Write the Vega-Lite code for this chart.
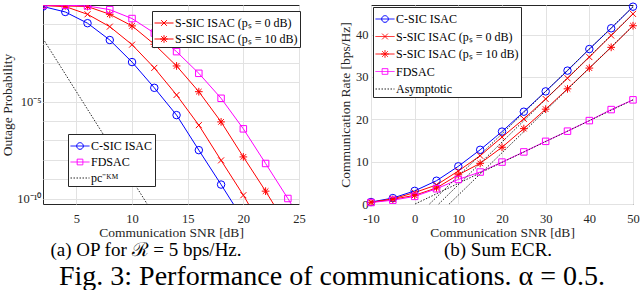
{
  "$schema": "https://vega.github.io/schema/vega-lite/v6.json",
  "padding": {"left": 0, "top": 0, "right": 0, "bottom": 0},
  "background": "white",
  "datasets": {
    "op": [
      {"s": "C-SIC ISAC", "x": 2, "p": 0.832},
      {"s": "C-SIC ISAC", "x": 4, "p": 0.4365},
      {"s": "C-SIC ISAC", "x": 6, "p": 0.1148},
      {"s": "C-SIC ISAC", "x": 8, "p": 0.01549},
      {"s": "C-SIC ISAC", "x": 10, "p": 0.001122},
      {"s": "C-SIC ISAC", "x": 12, "p": 5.25e-5},
      {"s": "C-SIC ISAC", "x": 14, "p": 2.04e-6},
      {"s": "C-SIC ISAC", "x": 16, "p": 3.16e-8},
      {"s": "C-SIC ISAC", "x": 18, "p": 5.25e-10},
      {"s": "C-SIC ISAC", "x": 20, "p": 7.9e-12},
      {"s": "S-SIC ISAC (pₛ = 0 dB)", "x": 2, "p": 0.933},
      {"s": "S-SIC ISAC (pₛ = 0 dB)", "x": 4, "p": 0.832},
      {"s": "S-SIC ISAC (pₛ = 0 dB)", "x": 6, "p": 0.331},
      {"s": "S-SIC ISAC (pₛ = 0 dB)", "x": 8, "p": 0.0759},
      {"s": "S-SIC ISAC (pₛ = 0 dB)", "x": 10, "p": 0.00891},
      {"s": "S-SIC ISAC (pₛ = 0 dB)", "x": 12, "p": 0.000562},
      {"s": "S-SIC ISAC (pₛ = 0 dB)", "x": 14, "p": 2.24e-5},
      {"s": "S-SIC ISAC (pₛ = 0 dB)", "x": 16, "p": 6.17e-7},
      {"s": "S-SIC ISAC (pₛ = 0 dB)", "x": 18, "p": 9.33e-9},
      {"s": "S-SIC ISAC (pₛ = 0 dB)", "x": 20, "p": 1.48e-10},
      {"s": "S-SIC ISAC (pₛ = 0 dB)", "x": 22, "p": 1.58e-12},
      {"s": "S-SIC ISAC (pₛ = 10 dB)", "x": 2, "p": 0.955},
      {"s": "S-SIC ISAC (pₛ = 10 dB)", "x": 4, "p": 0.891},
      {"s": "S-SIC ISAC (pₛ = 10 dB)", "x": 6, "p": 0.832},
      {"s": "S-SIC ISAC (pₛ = 10 dB)", "x": 8, "p": 0.331},
      {"s": "S-SIC ISAC (pₛ = 10 dB)", "x": 10, "p": 0.0832},
      {"s": "S-SIC ISAC (pₛ = 10 dB)", "x": 12, "p": 0.00933},
      {"s": "S-SIC ISAC (pₛ = 10 dB)", "x": 14, "p": 0.000708},
      {"s": "S-SIC ISAC (pₛ = 10 dB)", "x": 16, "p": 3.31e-5},
      {"s": "S-SIC ISAC (pₛ = 10 dB)", "x": 18, "p": 9.12e-7},
      {"s": "S-SIC ISAC (pₛ = 10 dB)", "x": 20, "p": 1.41e-8},
      {"s": "S-SIC ISAC (pₛ = 10 dB)", "x": 22, "p": 2.4e-10},
      {"s": "S-SIC ISAC (pₛ = 10 dB)", "x": 24, "p": 3.16e-12},
      {"s": "FDSAC", "x": 2, "p": 0.977},
      {"s": "FDSAC", "x": 4, "p": 0.977},
      {"s": "FDSAC", "x": 6, "p": 0.891},
      {"s": "FDSAC", "x": 8, "p": 0.575},
      {"s": "FDSAC", "x": 10, "p": 0.1995},
      {"s": "FDSAC", "x": 12, "p": 0.0355},
      {"s": "FDSAC", "x": 14, "p": 0.00389},
      {"s": "FDSAC", "x": 16, "p": 0.000295},
      {"s": "FDSAC", "x": 18, "p": 1.51e-5},
      {"s": "FDSAC", "x": 20, "p": 3.98e-7},
      {"s": "FDSAC", "x": 22, "p": 6.46e-9},
      {"s": "FDSAC", "x": 24, "p": 1.0e-10},
      {"s": "FDSAC", "x": 26, "p": 1.26e-12},
      {"s": "pc⁻ᴷᴹ", "x": 2, "p": 0.0182},
      {"s": "pc⁻ᴷᴹ", "x": 12, "p": 1.35e-11}
    ],
    "ecr": [
      {"s": "C-SIC ISAC", "g": "m1", "x": -10, "r": 0.47},
      {"s": "C-SIC ISAC", "g": "m1", "x": -5, "r": 1.4},
      {"s": "C-SIC ISAC", "g": "m1", "x": 0, "r": 3.1},
      {"s": "C-SIC ISAC", "g": "m1", "x": 5, "r": 5.5},
      {"s": "C-SIC ISAC", "g": "m1", "x": 10, "r": 8.9},
      {"s": "C-SIC ISAC", "g": "m1", "x": 15, "r": 12.8},
      {"s": "C-SIC ISAC", "g": "m1", "x": 20, "r": 17.1},
      {"s": "C-SIC ISAC", "g": "m1", "x": 25, "r": 21.8},
      {"s": "C-SIC ISAC", "g": "m1", "x": 30, "r": 26.6},
      {"s": "C-SIC ISAC", "g": "m1", "x": 35, "r": 31.5},
      {"s": "C-SIC ISAC", "g": "m1", "x": 40, "r": 36.6},
      {"s": "C-SIC ISAC", "g": "m1", "x": 45, "r": 41.5},
      {"s": "C-SIC ISAC", "g": "m1", "x": 50, "r": 46.6},
      {"s": "S-SIC ISAC (pₛ = 0 dB)", "g": "m2", "x": -10, "r": 0.4},
      {"s": "S-SIC ISAC (pₛ = 0 dB)", "g": "m2", "x": -5, "r": 1.2},
      {"s": "S-SIC ISAC (pₛ = 0 dB)", "g": "m2", "x": 0, "r": 2.7},
      {"s": "S-SIC ISAC (pₛ = 0 dB)", "g": "m2", "x": 5, "r": 4.5},
      {"s": "S-SIC ISAC (pₛ = 0 dB)", "g": "m2", "x": 10, "r": 7.8},
      {"s": "S-SIC ISAC (pₛ = 0 dB)", "g": "m2", "x": 15, "r": 11.4},
      {"s": "S-SIC ISAC (pₛ = 0 dB)", "g": "m2", "x": 20, "r": 15.8},
      {"s": "S-SIC ISAC (pₛ = 0 dB)", "g": "m2", "x": 25, "r": 20.1},
      {"s": "S-SIC ISAC (pₛ = 0 dB)", "g": "m2", "x": 30, "r": 24.8},
      {"s": "S-SIC ISAC (pₛ = 0 dB)", "g": "m2", "x": 35, "r": 29.7},
      {"s": "S-SIC ISAC (pₛ = 0 dB)", "g": "m2", "x": 40, "r": 34.7},
      {"s": "S-SIC ISAC (pₛ = 0 dB)", "g": "m2", "x": 45, "r": 39.8},
      {"s": "S-SIC ISAC (pₛ = 0 dB)", "g": "m2", "x": 50, "r": 44.9},
      {"s": "S-SIC ISAC (pₛ = 10 dB)", "g": "m3", "x": -10, "r": 0.4},
      {"s": "S-SIC ISAC (pₛ = 10 dB)", "g": "m3", "x": -5, "r": 1.1},
      {"s": "S-SIC ISAC (pₛ = 10 dB)", "g": "m3", "x": 0, "r": 2.05},
      {"s": "S-SIC ISAC (pₛ = 10 dB)", "g": "m3", "x": 5, "r": 3.8},
      {"s": "S-SIC ISAC (pₛ = 10 dB)", "g": "m3", "x": 10, "r": 6.9},
      {"s": "S-SIC ISAC (pₛ = 10 dB)", "g": "m3", "x": 15, "r": 9.6},
      {"s": "S-SIC ISAC (pₛ = 10 dB)", "g": "m3", "x": 20, "r": 13.4},
      {"s": "S-SIC ISAC (pₛ = 10 dB)", "g": "m3", "x": 25, "r": 17.8},
      {"s": "S-SIC ISAC (pₛ = 10 dB)", "g": "m3", "x": 30, "r": 22.4},
      {"s": "S-SIC ISAC (pₛ = 10 dB)", "g": "m3", "x": 35, "r": 27.2},
      {"s": "S-SIC ISAC (pₛ = 10 dB)", "g": "m3", "x": 40, "r": 32.1},
      {"s": "S-SIC ISAC (pₛ = 10 dB)", "g": "m3", "x": 45, "r": 37.0},
      {"s": "S-SIC ISAC (pₛ = 10 dB)", "g": "m3", "x": 50, "r": 42.1},
      {"s": "FDSAC", "g": "m4", "x": -10, "r": 0.35},
      {"s": "FDSAC", "g": "m4", "x": -5, "r": 0.9},
      {"s": "FDSAC", "g": "m4", "x": 0, "r": 1.8},
      {"s": "FDSAC", "g": "m4", "x": 5, "r": 3.6},
      {"s": "FDSAC", "g": "m4", "x": 10, "r": 5.8},
      {"s": "FDSAC", "g": "m4", "x": 15, "r": 7.55},
      {"s": "FDSAC", "g": "m4", "x": 20, "r": 9.9},
      {"s": "FDSAC", "g": "m4", "x": 25, "r": 12.3},
      {"s": "FDSAC", "g": "m4", "x": 30, "r": 14.8},
      {"s": "FDSAC", "g": "m4", "x": 35, "r": 17.2},
      {"s": "FDSAC", "g": "m4", "x": 40, "r": 19.7},
      {"s": "FDSAC", "g": "m4", "x": 45, "r": 22.3},
      {"s": "FDSAC", "g": "m4", "x": 50, "r": 24.6},
      {"s": "Asymptotic", "g": "a1", "x": 0.1, "r": 0},
      {"s": "Asymptotic", "g": "a1", "x": 50, "r": 24.6},
      {"s": "Asymptotic", "g": "a2", "x": 3.4, "r": 0},
      {"s": "Asymptotic", "g": "a2", "x": 50, "r": 46.6},
      {"s": "Asymptotic", "g": "a3", "x": 5.5, "r": 0},
      {"s": "Asymptotic", "g": "a3", "x": 50, "r": 44.9},
      {"s": "Asymptotic", "g": "a4", "x": 7.9, "r": 0},
      {"s": "Asymptotic", "g": "a4", "x": 50, "r": 42.1}
    ]
  },
  "config": {
    "font": "Liberation Serif",
    "view": {"stroke": "#262626", "strokeWidth": 1},
    "axis": {
      "domain": false, "ticks": false, "tickSize": 0, "grid": true,
      "gridColor": "#e2e2e2", "gridWidth": 1,
      "labelFont": "Liberation Serif", "labelFontSize": 12.5, "labelColor": "#262626",
      "titleFont": "Liberation Serif", "titleFontSize": 13.5, "titleFontWeight": "normal", "titleColor": "#262626",
      "labelOverlap": false, "labelFlush": false
    },
    "legend": {
      "orient": "none", "direction": "vertical", "title": null,
      "fillColor": "white", "strokeColor": "#262626", "padding": 2,
      "labelFont": "Liberation Serif", "labelFontSize": 12, "labelColor": "black",
      "symbolSize": 361, "symbolStrokeWidth": 1, "labelOffset": 1, "labelLimit": 400,
      "cornerRadius": 0
    },
    "title": {"font": "Liberation Serif", "fontWeight": "normal", "color": "black"},
    "concat": {"spacing": 32}
  },
  "title": {"text": "Fig. 3: Performance of communications. α = 0.5.", "orient": "bottom", "anchor": "middle", "fontSize": 28, "offset": 2, "dx": 12},
  "hconcat": [
    {
      "width": 256, "height": 199,
      "title": {"text": "(a) OP for ℛ = 5 bps/Hz.", "orient": "bottom", "anchor": "middle", "fontSize": 19, "offset": 2, "dx": -25},
      "layer": [
        {
          "data": {"name": "op"},
          "transform": [{"filter": "indexof(datum.s,'S-SIC')>=0"}],
          "layer": [
            {
              "mark": {"type": "line", "clip": true, "strokeWidth": 1},
              "encoding": {
                "x": {"field": "x", "type": "quantitative", "scale": {"domain": [2, 25], "nice": false, "zero": false},
                      "axis": {"values": [5, 10, 15, 20, 25], "title": "Communication SNR [dB]", "labelPadding": 8, "titlePadding": 1}},
                "y": {"field": "p", "type": "quantitative", "scale": {"type": "log", "domain": [5.2e-11, 1], "nice": false},
                      "axis": {"values": [0.1, 0.01, 0.001, 0.0001, 1e-5, 1e-6, 1e-7, 1e-8, 1e-9, 1e-10],
                               "labelExpr": "round(log(datum.value)/LN10)==-5 ? '10⁻⁵' : round(log(datum.value)/LN10)==-10 ? '10⁻¹⁰' : ''",
                               "title": "Outage Probability", "labelPadding": 2, "titlePadding": 2}},
                "color": {"field": "s", "type": "nominal",
                          "scale": {"domain": ["S-SIC ISAC (pₛ = 0 dB)", "S-SIC ISAC (pₛ = 10 dB)"], "range": ["#ff0000", "#ff0000"]},
                          "legend": {"legendX": 109, "legendY": 6, "rowPadding": -1,
                                     "encode": {"symbols": {"update": {
                                       "shape": {"signal": "indexof(datum.value,'10 dB')>=0 ? 'M-1,0H1M-0.3,-0.3L0.3,0.3M-0.3,0.3L0.3,-0.3M0,-0.4V0.4M-0.4,0H0.4' : 'M-1,0H1M-0.3,-0.3L0.3,0.3M-0.3,0.3L0.3,-0.3'"},
                                       "fill": {"value": "transparent"}}}}}}
              }
            },
            {
              "transform": [{"filter": "indexof(datum.s,'0 dB')>=0 && indexof(datum.s,'10 dB')<0"}],
              "mark": {"type": "point", "shape": "M-1,-1L1,1M-1,1L1,-1", "size": 36, "filled": false, "color": "#ff0000", "strokeWidth": 1, "opacity": 1, "clip": true},
              "encoding": {"x": {"field": "x", "type": "quantitative"}, "y": {"field": "p", "type": "quantitative"}}
            },
            {
              "transform": [{"filter": "indexof(datum.s,'10 dB')>=0"}],
              "mark": {"type": "point", "shape": "M-0.8,-0.8L0.8,0.8M-0.8,0.8L0.8,-0.8M0,-1.1V1.1M-1.1,0H1.1", "size": 49, "filled": false, "color": "#ff0000", "strokeWidth": 1, "opacity": 1, "clip": true},
              "encoding": {"x": {"field": "x", "type": "quantitative"}, "y": {"field": "p", "type": "quantitative"}}
            }
          ]
        },
        {
          "data": {"name": "op"},
          "transform": [{"filter": "indexof(datum.s,'S-SIC')<0"}],
          "layer": [
            {
              "transform": [{"filter": "datum.s != 'pc⁻ᴷᴹ'"}],
              "mark": {"type": "line", "clip": true, "strokeWidth": 1},
              "encoding": {
                "x": {"field": "x", "type": "quantitative"},
                "y": {"field": "p", "type": "quantitative"},
                "color": {"field": "s", "type": "nominal",
                          "scale": {"domain": ["C-SIC ISAC", "FDSAC", "pc⁻ᴷᴹ"], "range": ["#0000ff", "#ff00ff", "#262626"]},
                          "legend": {"legendX": 25, "legendY": 129, "rowPadding": -8,
                                     "encode": {"symbols": {"update": {
                                       "shape": {"signal": "datum.value=='C-SIC ISAC' ? 'M-1,0H1M0.35,0A0.35,0.35 0 1,1 -0.35,0A0.35,0.35 0 1,1 0.35,0' : datum.value=='FDSAC' ? 'M-1,0H1M-0.3,-0.3H0.3V0.3H-0.3Z' : 'M-1,0H1'"},
                                       "strokeDash": {"signal": "datum.value=='C-SIC ISAC' || datum.value=='FDSAC' ? [1,0] : [1.5,1.5]"},
                                       "fill": {"value": "transparent"}}}}}}
              }
            },
            {
              "transform": [{"filter": "datum.s == 'pc⁻ᴷᴹ'"}],
              "mark": {"type": "line", "clip": true, "strokeWidth": 1, "strokeDash": [1.5, 1.5]},
              "encoding": {
                "x": {"field": "x", "type": "quantitative"},
                "y": {"field": "p", "type": "quantitative"},
                "color": {"field": "s", "type": "nominal"}
              }
            },
            {
              "transform": [{"filter": "datum.s == 'C-SIC ISAC'"}],
              "mark": {"type": "point", "shape": "circle", "size": 56, "filled": false, "color": "#0000ff", "strokeWidth": 1, "opacity": 1, "clip": true},
              "encoding": {"x": {"field": "x", "type": "quantitative"}, "y": {"field": "p", "type": "quantitative"}}
            },
            {
              "transform": [{"filter": "datum.s == 'FDSAC'"}],
              "mark": {"type": "point", "shape": "square", "size": 42, "filled": false, "color": "#ff00ff", "strokeWidth": 1, "opacity": 1, "clip": true},
              "encoding": {"x": {"field": "x", "type": "quantitative"}, "y": {"field": "p", "type": "quantitative"}}
            }
          ]
        }
      ],
      "resolve": {"scale": {"color": "independent"}}
    },
    {
      "width": 262, "height": 199,
      "title": {"text": "(b) Sum ECR.", "orient": "bottom", "anchor": "middle", "fontSize": 19, "offset": 2, "dx": -4},
      "data": {"name": "ecr"},
      "layer": [
        {
          "transform": [{"filter": "datum.s != 'Asymptotic'"}],
          "mark": {"type": "line", "strokeWidth": 1},
          "encoding": {
            "x": {"field": "x", "type": "quantitative", "scale": {"domain": [-10, 50], "nice": false, "zero": false},
                  "axis": {"values": [-10, 0, 10, 20, 30, 40, 50], "labelExpr": "datum.value < 0 ? '-' + abs(datum.value) : datum.label", "title": "Communication SNR [dB]", "labelPadding": 8, "titlePadding": 1}},
            "y": {"field": "r", "type": "quantitative", "scale": {"domain": [0, 47], "nice": false},
                  "axis": {"values": [0, 10, 20, 30, 40], "title": "Communication Rate [bps/Hz]", "labelPadding": 3, "titlePadding": 3}},
            "color": {"field": "s", "type": "nominal",
                      "scale": {"domain": ["C-SIC ISAC", "S-SIC ISAC (pₛ = 0 dB)", "S-SIC ISAC (pₛ = 10 dB)", "FDSAC", "Asymptotic"],
                                "range": ["#0000ff", "#ff0000", "#ff0000", "#ff00ff", "#262626"]},
                      "legend": {"legendX": 330, "legendY": 2, "rowPadding": 1.5,
                                 "encode": {"symbols": {"update": {
                                   "shape": {"signal": "datum.value=='C-SIC ISAC' ? 'M-1,0H1M0.35,0A0.35,0.35 0 1,1 -0.35,0A0.35,0.35 0 1,1 0.35,0' : indexof(datum.value,'10 dB')>=0 ? 'M-1,0H1M-0.3,-0.3L0.3,0.3M-0.3,0.3L0.3,-0.3M0,-0.4V0.4M-0.4,0H0.4' : indexof(datum.value,'0 dB')>=0 ? 'M-1,0H1M-0.3,-0.3L0.3,0.3M-0.3,0.3L0.3,-0.3' : datum.value=='FDSAC' ? 'M-1,0H1M-0.3,-0.3H0.3V0.3H-0.3Z' : 'M-1,0H1'"},
                                   "strokeDash": {"signal": "datum.value=='Asymptotic' ? [1.5,1.5] : [1,0]"},
                                   "fill": {"value": "transparent"}}}}}},
            "detail": {"field": "g"}
          }
        },
        {
          "transform": [{"filter": "datum.s == 'Asymptotic'"}],
          "mark": {"type": "line", "strokeWidth": 1, "strokeDash": [1.5, 1.5]},
          "encoding": {
            "x": {"field": "x", "type": "quantitative"},
            "y": {"field": "r", "type": "quantitative"},
            "color": {"field": "s", "type": "nominal"},
            "detail": {"field": "g"}
          }
        },
        {
          "transform": [{"filter": "datum.s == 'C-SIC ISAC'"}],
          "mark": {"type": "point", "shape": "circle", "size": 56, "filled": false, "color": "#0000ff", "strokeWidth": 1, "opacity": 1},
          "encoding": {"x": {"field": "x", "type": "quantitative"}, "y": {"field": "r", "type": "quantitative"}}
        },
        {
          "transform": [{"filter": "indexof(datum.s,'0 dB')>=0 && indexof(datum.s,'10 dB')<0"}],
          "mark": {"type": "point", "shape": "M-1,-1L1,1M-1,1L1,-1", "size": 36, "filled": false, "color": "#ff0000", "strokeWidth": 1, "opacity": 1},
          "encoding": {"x": {"field": "x", "type": "quantitative"}, "y": {"field": "r", "type": "quantitative"}}
        },
        {
          "transform": [{"filter": "indexof(datum.s,'10 dB')>=0"}],
          "mark": {"type": "point", "shape": "M-0.8,-0.8L0.8,0.8M-0.8,0.8L0.8,-0.8M0,-1.1V1.1M-1.1,0H1.1", "size": 49, "filled": false, "color": "#ff0000", "strokeWidth": 1, "opacity": 1},
          "encoding": {"x": {"field": "x", "type": "quantitative"}, "y": {"field": "r", "type": "quantitative"}}
        },
        {
          "transform": [{"filter": "datum.s == 'FDSAC'"}],
          "mark": {"type": "point", "shape": "square", "size": 42, "filled": false, "color": "#ff00ff", "strokeWidth": 1, "opacity": 1},
          "encoding": {"x": {"field": "x", "type": "quantitative"}, "y": {"field": "r", "type": "quantitative"}}
        }
      ]
    }
  ]
}
